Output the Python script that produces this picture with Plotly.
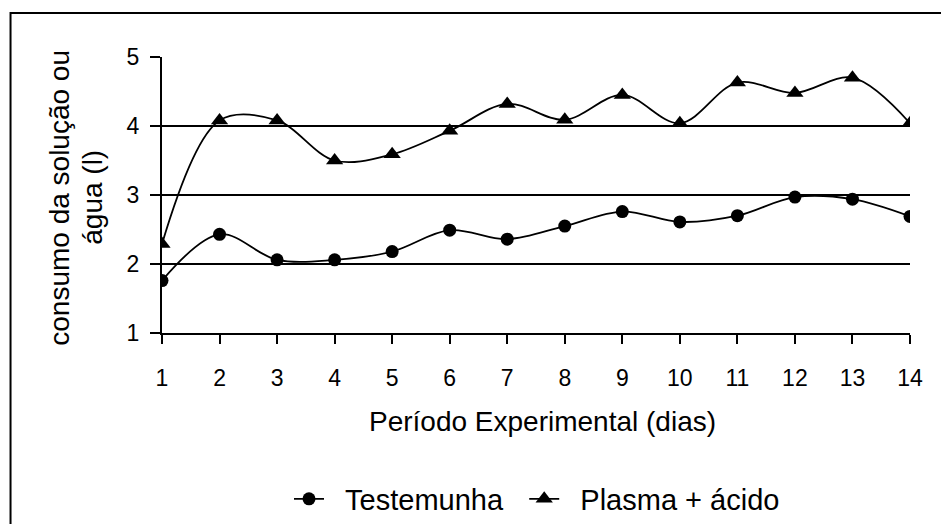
import plotly.graph_objects as go

dias = list(range(1, 15))
testemunha = [1.76, 2.43, 2.06, 2.06, 2.18, 2.49, 2.36, 2.55, 2.76, 2.61, 2.70, 2.97, 2.94, 2.69]
plasma_acido = [2.29, 4.08, 4.08, 3.50, 3.59, 3.93, 4.32, 4.09, 4.45, 4.04, 4.63, 4.48, 4.70, 4.04]
y_ticks = [1, 2, 3, 4, 5]

FONT = "Liberation Sans, Arial, sans-serif"
NB = "\u00a0"

fig = go.Figure()
fig.add_trace(go.Scatter(
    x=dias, y=testemunha, name=NB * 2 + "Testemunha" + NB * 2, mode="lines+markers",
    line=dict(color="black", width=1.8, shape="spline", smoothing=1),
    marker=dict(symbol="circle", size=13, color="black"),
))
fig.add_trace(go.Scatter(
    x=dias, y=plasma_acido, name=NB * 2 + "Plasma + ácido", mode="lines+markers",
    line=dict(color="black", width=1.8, shape="spline", smoothing=1),
    marker=dict(symbol="triangle-up", size=15, color="black"),
))

fig.update_layout(
    width=941, height=524,
    margin=dict(l=162, r=31, t=57, b=191),
    paper_bgcolor="white", plot_bgcolor="white",
    font=dict(family=FONT, color="black", size=22),
    showlegend=True,
    legend=dict(orientation="h", xref="container", yref="container",
                x=537 / 941, xanchor="center", y=1 - 499 / 524, yanchor="middle",
                font=dict(size=29, family=FONT), bgcolor="rgba(0,0,0,0)",
                itemwidth=30, tracegroupgap=0),
    xaxis=dict(range=[1, 14], tickvals=dias, ticks="outside", ticklen=9, tickwidth=2,
               tickcolor="black", showline=True, linecolor="black", linewidth=2,
               showgrid=False, zeroline=False, ticklabelstandoff=14,
               tickfont=dict(size=23, family=FONT)),
    yaxis=dict(range=[1, 5], tickvals=y_ticks, ticks="outside", ticklen=10, tickwidth=2,
               tickcolor="black", showline=True, linecolor="black", linewidth=2,
               showgrid=True, gridcolor="black", gridwidth=2, zeroline=False,
               ticklabelstandoff=6, tickfont=dict(size=23, family=FONT)),
    annotations=[
        dict(text="consumo da solução ou", xref="paper", yref="paper",
             x=(60 - 162) / 748, y=0.49, xanchor="center", yanchor="middle", textangle=-90,
             showarrow=False, font=dict(size=28, family=FONT)),
        dict(text="água (l)", xref="paper", yref="paper",
             x=(93 - 162) / 748, y=0.49, xanchor="center", yanchor="middle", textangle=-90,
             showarrow=False, font=dict(size=28, family=FONT)),
        dict(text="Período Experimental (dias)", xref="paper", yref="paper",
             x=0.509, y=(333 - 422) / 276, xanchor="center", yanchor="middle",
             showarrow=False, font=dict(size=28, family=FONT)),
    ],
    shapes=[
        dict(type="rect", xref="paper", yref="paper", x0=-0.2025, y0=-1.2, x1=1.3, y1=1.159,
             line=dict(color="black", width=2), fillcolor="rgba(0,0,0,0)", layer="below"),
    ],
)

fig.write_html("out.html", config={"displayModeBar": False},
               post_script="document.body.style.margin='0';document.body.style.overflow='hidden';")
